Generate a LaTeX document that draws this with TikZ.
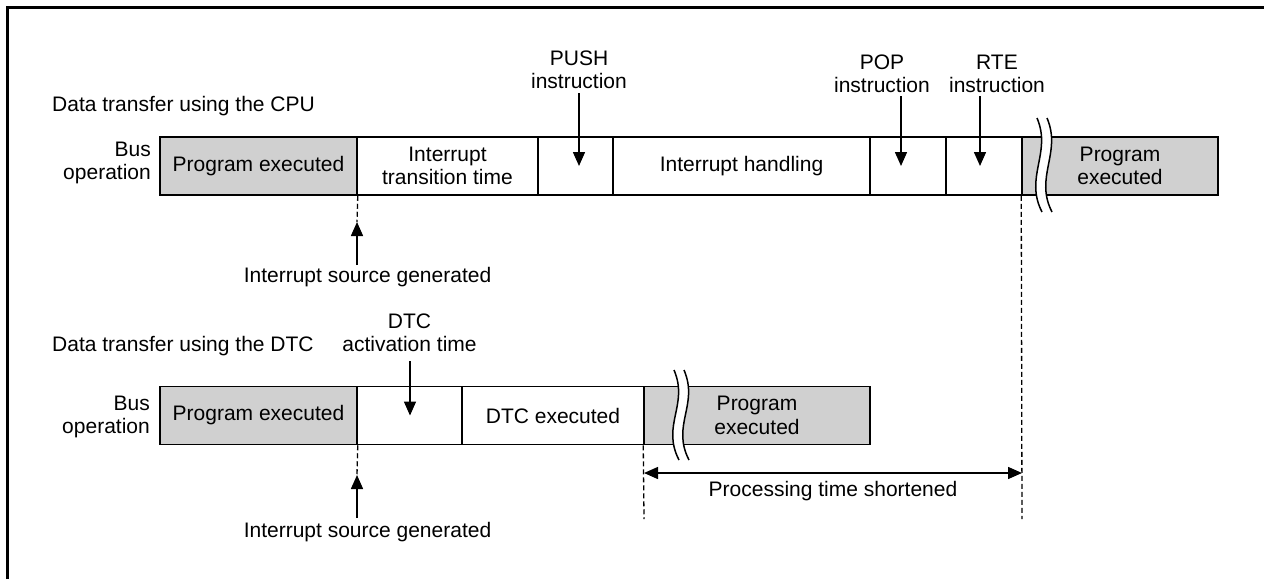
\documentclass[tikz,border=0pt]{standalone}
\usepackage{fontspec}
\setmainfont{Liberation Sans}
\usetikzlibrary{arrows.meta}
\definecolor{execgray}{RGB}{208,208,208}

% wavy double break mark: #1 = x of left curve top, #2 = top y, #3 = bottom y
\newcommand\breakmark[3]{%
  \fill[white] ({#1-3},#2) .. controls ({#1+12},{#2+35}) and ({#1-16},{#3-35}) .. ({#1+2},#3)
    -- ({#1+12},#3) .. controls ({#1-6},{#3-35}) and ({#1+22},{#2+35}) .. ({#1+7},#2) -- cycle;
  \draw[brk] ({#1-3},#2) .. controls ({#1+12},{#2+35}) and ({#1-16},{#3-35}) .. ({#1+2},#3);
  \draw[brk] ({#1+7},#2) .. controls ({#1+22},{#2+35}) and ({#1-6},{#3-35}) .. ({#1+12},#3);
}

\begin{document}
\begin{tikzpicture}[x=1pt,y=-1pt,
  every node/.style={font=\fontsize{21}{23.5}\selectfont},
  seg/.style={draw, line width=1.5pt, inner sep=0pt, minimum height=58pt, align=center},
  busy/.style={seg, fill=execgray},
  lbl/.style={align=center, inner sep=0pt},
  pointer/.style={line width=1.5pt, -{Triangle[length=14pt,width=12pt]}},
  twoway/.style={line width=1.5pt, {Triangle[length=14pt,width=12pt]}-{Triangle[length=14pt,width=12pt]}},
  guide/.style={line width=1.3pt, dash pattern=on 5pt off 3pt},
  brk/.style={line width=1.5pt}
]
\useasboundingbox (0,0) rectangle (1264,579);

% frame
\draw[line width=3pt] (7,579) -- (7,7) -- (1264,7);

% ---------- CPU transfer ----------
\node[anchor=west, inner sep=0pt] (cputitle) at (52,106) {Data transfer using the CPU};
\node[lbl, align=right, anchor=east] (cpubus) at (151,163) {Bus\\operation};

\node[busy, minimum width=197pt] (ca) at (258.5,166) {Program executed};
\node[seg, minimum width=181pt] (cb) at (447.5,166) {Interrupt\\transition time};
\node[seg, minimum width=75pt] (cc) at (575.5,166) {};
\node[seg, minimum width=257pt] (cd) at (741.5,166) {Interrupt handling};
\node[seg, minimum width=76pt] (ce) at (908,166) {};
\node[seg, minimum width=76pt] (cf) at (984,166) {};
\node[busy, minimum width=196pt] (cg) at (1120,166) {Program\\executed};
\breakmark{1040}{118}{212}

\node[lbl] (pushl) at (579,70) {PUSH\\instruction};
\node[lbl] (popl) at (882,74) {POP\\instruction};
\node[lbl] (rtel) at (997,74) {RTE\\instruction};
\coordinate (pushtop) at (579,93);
\coordinate (poptop) at (901,96);
\coordinate (rtetop) at (980,96);
\draw[pointer] (pushtop) -- (pushtop |- cc.center);
\draw[pointer] (poptop) -- (poptop |- ce.center);
\draw[pointer] (rtetop) -- (rtetop |- cf.center);

\coordinate (cpuirq) at (357,222);
\coordinate (cpuirqfoot) at (357,265);
\draw[guide] (ca.south east) -- (cpuirq);
\draw[pointer] (cpuirqfoot) -- (cpuirq);
\node[lbl] (cpusrc) at (367.5,277) {Interrupt source generated};

% ---------- DTC transfer ----------
\node[anchor=west, inner sep=0pt] (dtctitle) at (52,346) {Data transfer using the DTC};
\node[lbl, align=right, anchor=east] (dtcbus) at (150,417) {Bus\\operation};

\node[busy, minimum width=197pt] (da) at (258.5,415.5) {Program executed};
\node[seg, minimum width=105pt] (db) at (409.5,415.5) {};
\node[seg, minimum width=182pt] (dc) at (553,415.5) {DTC executed};
\node[busy, minimum width=226pt] (dd) at (757,415.5) {Program\\executed};
\breakmark{677}{370}{460}

\node[lbl] (dtcl) at (409.5,333) {DTC\\activation time};
\coordinate (dtctop) at (410,361);
\draw[pointer] (dtctop) -- (dtctop |- db.center);

\coordinate (dtcirq) at (357,475);
\coordinate (dtcirqfoot) at (357,518);
\draw[guide] (da.south east) -- (dtcirq);
\draw[pointer] (dtcirqfoot) -- (dtcirq);
\node[lbl] (dtcsrc) at (367.5,532) {Interrupt source generated};

% ---------- saving ----------
\coordinate (savel) at (644,519);
\coordinate (saver) at (1022,519);
\draw[guide] (dd.south west) -- (savel);
\draw[guide] (cg.south west) -- (saver);
\coordinate (arrl) at (644,473);
\coordinate (arrr) at (1022,473);
\draw[twoway] (arrl) -- (arrr);
\node[lbl] (savetxt) at (833,491) {Processing time shortened};
\end{tikzpicture}
\end{document}
